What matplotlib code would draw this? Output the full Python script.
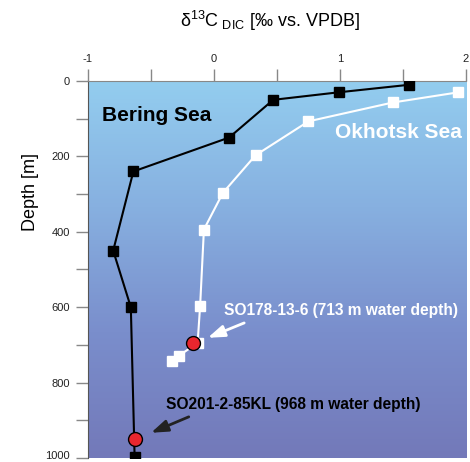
import matplotlib
matplotlib.use("Agg")
import matplotlib.pyplot as plt
import matplotlib.transforms as mtransforms
import numpy as np
from matplotlib.colors import LinearSegmentedColormap

plt.rcParams['font.family'] = ['Liberation Sans', 'DejaVu Sans']
plt.rcParams['mathtext.fontset'] = 'custom'
plt.rcParams['mathtext.rm'] = 'Liberation Sans'

# Data
bering_d13c = [1.55, 0.99, 0.47, 0.12, -0.64, -0.80, -0.66, -0.63]
bering_depth = [10, 30, 50, 150, 240, 450, 600, 997]
okhotsk_d13c = [1.94, 1.42, 0.75, 0.33, 0.07, -0.08, -0.11, -0.13, -0.28, -0.33]
okhotsk_depth = [30, 57, 107, 197, 297, 394, 596, 695, 729, 742]
core_okhotsk = (-0.17, 695)
core_bering = (-0.63, 950)
x_major = [-1, 0, 1, 2]
x_minor = [-0.5, 0.5, 1.5]
y_major = [0, 200, 400, 600, 800, 1000]
y_minor = [100, 300, 500, 700, 900]

fig = plt.figure(figsize=(4.7, 4.62), dpi=100)
ax = fig.add_axes([0.1872, 0.0087, 0.8043, 0.816])
ax.set_xlim(-1, 2)
ax.set_ylim(1000, 0)

cmap = LinearSegmentedColormap.from_list('sea', ['#93CDEF', '#87B0E0', '#7A8ECC', '#7379B9'])
grad = np.linspace(0, 1, 256).reshape(-1, 1)
ax.imshow(grad, cmap=cmap, aspect='auto', extent=[-1, 2, 1000, 0], zorder=0)

ax.plot(okhotsk_d13c, okhotsk_depth, color='white', lw=1.5, marker='s', ms=7,
        mfc='white', mec='white', zorder=3)
ax.plot(bering_d13c, bering_depth, color='black', lw=1.5, marker='s', ms=7,
        mfc='black', mec='black', zorder=4)
ax.plot(*core_okhotsk, marker='o', ms=10, mfc='#E8262E', mec='black', mew=1, zorder=5)
ax.plot(*core_bering, marker='o', ms=10, mfc='#E8262E', mec='black', mew=1, zorder=5)

ax.text(-0.89, 92, 'Bering Sea', fontsize=15, fontweight='bold', color='black', va='center', ha='left')
ax.text(0.96, 137, 'Okhotsk Sea', fontsize=15, fontweight='bold', color='white', va='center', ha='left')
ax.text(0.08, 610, 'SO178-13-6 (713 m water depth)', fontsize=11.2, fontweight='bold',
        color='white', va='center', ha='left')
ax.text(-0.38, 859, 'SO201-2-85KL (968 m water depth)', fontsize=11.2, fontweight='bold',
        color='black', va='center', ha='left')
ax.annotate('', xy=(-0.07, 684), xytext=(0.26, 639),
            arrowprops=dict(arrowstyle='-|>,head_length=1.0,head_width=0.35', color='white', lw=2), zorder=6)
ax.annotate('', xy=(-0.52, 936), xytext=(-0.18, 888),
            arrowprops=dict(arrowstyle='-|>,head_length=1.0,head_width=0.35', color='#222222', lw=2), zorder=6)

ax.xaxis.tick_top()
ax.set_xticks(x_major)
ax.set_xticklabels([str(v) for v in x_major])
ax.set_xticks(x_minor, minor=True)
ax.set_yticks(y_major)
ax.set_yticklabels([str(v) for v in y_major])
ax.set_yticks(y_minor, minor=True)
ax.tick_params(which='both', direction='out', length=9, width=1, color='#888888',
               labelsize=8, labelcolor='#222222', pad=4)
ax.tick_params(axis='x', which='both', top=True, bottom=False, pad=3)
for s in ['right', 'bottom']:
    ax.spines[s].set_visible(False)
ax.spines['top'].set_color('#888888')
ax.spines['left'].set_color('#555555')

# nudge the bottom-most y label up slightly so it stays inside the canvas
last = ax.get_yticklabels()[-1]
last.set_transform(last.get_transform() + mtransforms.ScaledTranslation(0, 3 / 100, fig.dpi_scale_trans))

fig.text(0.575, 0.955, r'δ$^{13}$C$_{\mathrm{\ DIC}}$ [‰ vs. VPDB]', fontsize=13, ha='center', va='center')
fig.text(0.065, 0.585, 'Depth [m]', fontsize=13, rotation=90, ha='center', va='center')

fig.savefig('out.png', dpi=100)
